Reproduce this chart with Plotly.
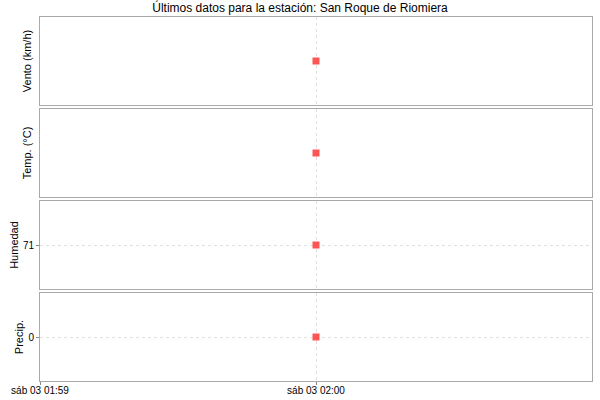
import plotly.graph_objects as go
from plotly.subplots import make_subplots

# Datos
fechas = ["2024-02-03 02:00"]
viento = [3.2]
temperatura = [12.4]
humedad = [71]
precipitacion = [0]

etiquetas_y = ["Vento (km/h)", "Temp. (°C)", "Humedad", "Precip."]
series = [viento, temperatura, humedad, precipitacion]
ticks_y = [[], [], [71], [0]]

x_ticks = ["2024-02-03 01:59", "2024-02-03 02:00"]
x_ticktext = ["sáb 03 01:59", "sáb 03 02:00"]
x_rango = ["2024-02-03 01:59", "2024-02-03 02:01"]

fig = make_subplots(rows=4, cols=1, shared_xaxes=True, vertical_spacing=0.011)

for i, (serie, etiqueta, tv) in enumerate(zip(series, etiquetas_y, ticks_y), start=1):
    fig.add_trace(go.Scatter(x=fechas, y=serie, mode="markers",
                             marker=dict(symbol="square", size=7, color="#ff5555"),
                             showlegend=False), row=i, col=1)
    fig.update_yaxes(title_text=etiqueta, title_font=dict(size=11, color="#000000"),
                     title_standoff=2, automargin=False,
                     range=[serie[0] - 1, serie[0] + 1],
                     tickvals=tv, showticklabels=len(tv) > 0,
                     ticks="outside", ticklen=3, tickcolor="#888888",
                     showgrid=True, gridcolor="#e0e0e0", griddash="3px,3px",
                     zeroline=False, showline=True, linecolor="#aaaaaa", mirror=True,
                     tickfont=dict(size=10, color="#000000"),
                     row=i, col=1)
    fig.update_xaxes(type="date", range=x_rango, tickvals=x_ticks, ticktext=x_ticktext,
                     showgrid=True, gridcolor="#e0e0e0", griddash="3px,3px",
                     showline=True, linecolor="#aaaaaa", mirror=True, automargin=False,
                     zeroline=False, row=i, col=1)

fig.update_xaxes(ticks="outside", ticklen=3, tickcolor="#888888", ticklabelstandoff=-3,
                 tickfont=dict(size=10, color="#000000"), row=4, col=1)

fig.update_layout(
    title=dict(text="Últimos datos para la estación: San Roque de Riomiera",
               x=0.5, xanchor="center", y=0.98, yanchor="middle",
               font=dict(size=12, color="#000000")),
    font=dict(family="Liberation Sans, DejaVu Sans, sans-serif"),
    width=600, height=400,
    margin=dict(l=40, r=8, t=17, b=19),
    plot_bgcolor="white", paper_bgcolor="white",
)

# quitar el margen del body para que la figura empiece en (0, 0)
fig.write_html("out.html", config={"displayModeBar": False},
               post_script="document.body.style.margin='0';")
